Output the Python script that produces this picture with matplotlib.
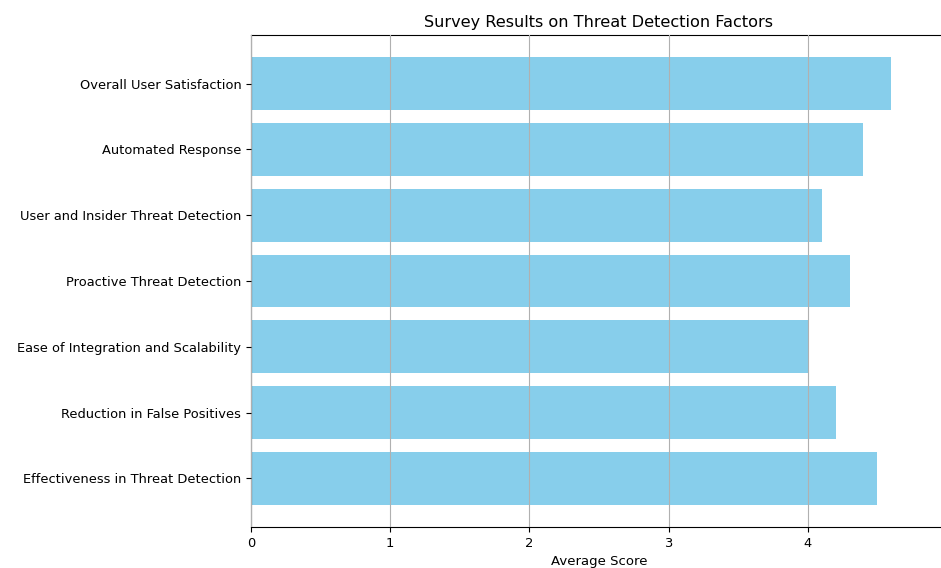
import matplotlib
matplotlib.use("Agg")
import matplotlib.pyplot as plt

factors = [
    "Effectiveness in Threat Detection",
    "Reduction in False Positives",
    "Ease of Integration and Scalability",
    "Proactive Threat Detection",
    "User and Insider Threat Detection",
    "Automated Response",
    "Overall User Satisfaction",
]
scores = [4.5, 4.2, 4.0, 4.3, 4.1, 4.4, 4.6]

fig = plt.figure(figsize=(9.41, 5.68), dpi=100)
# axes runs slightly past the right edge, as in the cropped original
ax = fig.add_axes([251 / 941, 41 / 568, 696 / 941, 492 / 568])
ax.barh(factors, scores, color="skyblue")
ax.set_xlim(0, 5)
ax.grid(axis="x", color="#b0b0b0", linewidth=0.8)
ax.set_axisbelow(False)
ax.set_xlabel("Average Score", fontsize=9.5)
ax.set_title("Survey Results on Threat Detection Factors", fontsize=11.6)
ax.tick_params(labelsize=9.4)

fig.savefig("out.png", dpi=100)
